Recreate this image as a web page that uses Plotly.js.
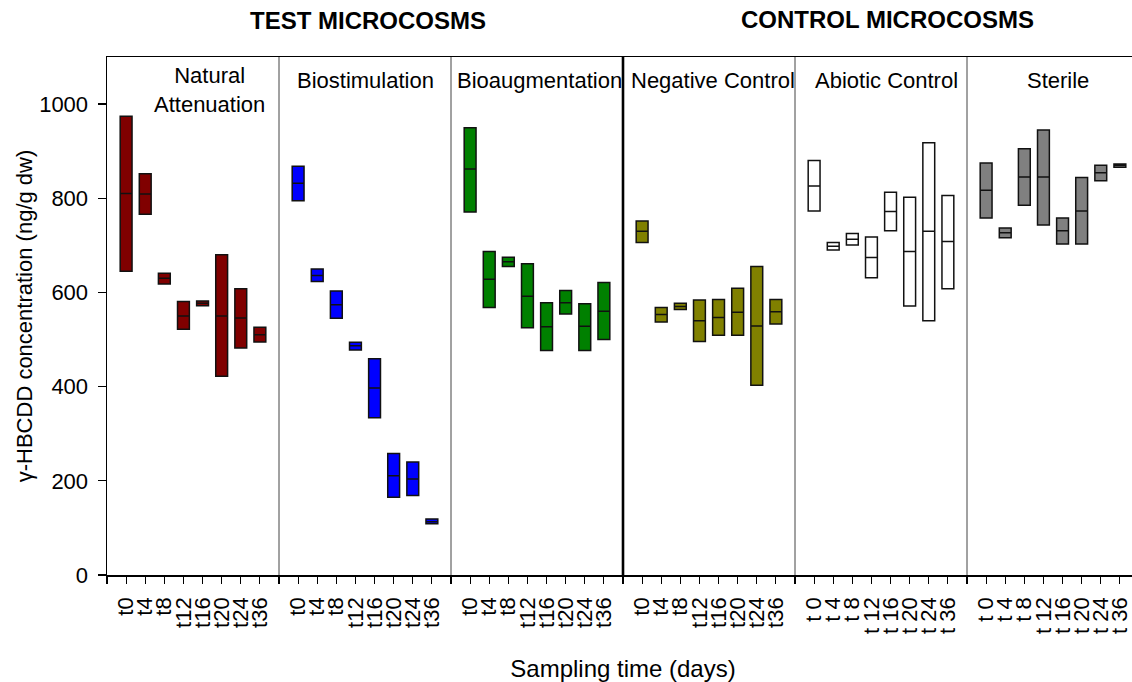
<!DOCTYPE html>
<html>
<head>
<meta charset="utf-8">
<script src="https://cdn.plot.ly/plotly-3.0.1.min.js"></script>
<style>
html, body { margin: 0; padding: 0; overflow: hidden; background: #fff; }
#chart { width: 1150px; height: 682px; }
</style>
</head>
<body>
<div id="chart"></div>
<script>
// ---- data ----
const categories = ['t0', 't4', 't8', 't12', 't16', 't20', 't24', 't36'];
const spacedCategories = ['t 0', 't 4', 't 8', 't 12', 't 16', 't 20', 't 24', 't 36'];
const panelNames = ['Natural<br>Attenuation', 'Biostimulation', 'Bioaugmentation', 'Negative Control', 'Abiotic Control', 'Sterile'];
const groupNames = ['TEST MICROCOSMS', 'CONTROL MICROCOSMS'];
const panelColors = ['#800000', '#0000ff', '#008000', '#808000', '#ffffff', '#808080'];

const naLow  = [645, 766, 618, 522, 572, 422, 482, 495];
const naMed  = [810, 809, 630, 550, 577, 550, 546, 510];
const naHigh = [974, 852, 641, 581, 582, 680, 608, 526];

const bsLow  = [795, 623, 545, 478, 334, 165, 169, 109];
const bsMed  = [832, 636, 574, 487, 397, 211, 204, 113];
const bsHigh = [868, 650, 603, 494, 459, 258, 240, 119];

const baLow  = [771, 568, 655, 525, 477, 554, 477, 500];
const baMed  = [862, 628, 665, 592, 527, 578, 528, 560];
const baHigh = [950, 687, 675, 661, 578, 604, 576, 621];

const ncLow  = [706, 537, 564, 496, 509, 509, 403, 533];
const ncMed  = [730, 553, 570, 540, 547, 558, 529, 559];
const ncHigh = [752, 568, 577, 584, 585, 609, 655, 585];

const acLow  = [773, 690, 701, 631, 731, 571, 540, 608];
const acMed  = [826, 698, 713, 674, 772, 687, 730, 708];
const acHigh = [880, 706, 725, 718, 813, 802, 918, 806];

const stLow  = [758, 716, 785, 743, 703, 703, 837, 866];
const stMed  = [817, 727, 845, 845, 731, 773, 854, 870];
const stHigh = [875, 737, 905, 945, 758, 844, 870, 873];

const yTicks = [0, 200, 400, 600, 800, 1000];

// ---- build ----
const lows  = [naLow, bsLow, baLow, ncLow, acLow, stLow];
const meds  = [naMed, bsMed, baMed, ncMed, acMed, stMed];
const highs = [naHigh, bsHigh, baHigh, ncHigh, acHigh, stHigh];
const panelLabels = [categories, categories, categories, categories, spacedCategories, spacedCategories];

const slots = categories.length + 1; // 9 slots per panel
const nPanels = panelNames.length;
const FONT = 'Arial, "Liberation Sans", sans-serif';

const traces = [];
for (let p = 0; p < nPanels; p++) {
  const xs = categories.map((c, i) => p * slots + i + 1);
  traces.push({
    type: 'box',
    x: xs,
    q1: lows[p],
    median: meds[p],
    q3: highs[p],
    lowerfence: lows[p],
    upperfence: highs[p],
    width: 0.62,
    whiskerwidth: 0,
    fillcolor: panelColors[p],
    line: { color: '#111111', width: 1.5 },
    hoverinfo: 'skip',
    showlegend: false
  });
}

const tickvals = [];
const ticktext = [];
for (let p = 0; p < nPanels; p++) {
  tickvals.push(p * slots); ticktext.push('');
  panelLabels[p].forEach((lab, i) => { tickvals.push(p * slots + i + 1); ticktext.push(lab); });
}
tickvals.push(nPanels * slots); ticktext.push('');

const shapes = [];
for (let p = 1; p < nPanels; p++) {
  const thick = (p === 3);
  shapes.push({
    type: 'line', xref: 'x', yref: 'paper',
    x0: p * slots, x1: p * slots, y0: 0, y1: 1,
    line: { color: thick ? '#000000' : '#444444', width: thick ? 2.6 : 1 }
  });
}

const titleShift = [16, 0, 2, 4, 5, 5];
const annotations = panelNames.map((name, p) => ({
  text: name, xref: 'x', yref: 'paper',
  x: p * slots + slots / 2, xshift: titleShift[p],
  y: p === 0 ? 0.937 : 0.955, yanchor: 'middle', xanchor: 'center',
  showarrow: false, font: { family: FONT, size: 22, color: '#000' }
}));
annotations.push({
  text: '<b>' + groupNames[0] + '</b>', xref: 'x', yref: 'paper',
  x: 1.5 * slots, xshift: 3, y: 1.07, yanchor: 'middle',
  showarrow: false, font: { family: FONT, size: 24, color: '#000' }
});
annotations.push({
  text: '<b>' + groupNames[1] + '</b>', xref: 'x', yref: 'paper',
  x: 4.5 * slots, xshift: 6, y: 1.072, yanchor: 'middle',
  showarrow: false, font: { family: FONT, size: 24, color: '#000' }
});

const layout = {
  width: 1150, height: 682,
  margin: { l: 107, r: 11, t: 57, b: 107 },
  paper_bgcolor: '#fff', plot_bgcolor: '#fff',
  font: { family: FONT, size: 22, color: '#000' },
  showlegend: false,
  xaxis: {
    range: [0, nPanels * slots],
    tickmode: 'array', tickvals: tickvals, ticktext: ticktext,
    tickangle: -90, ticks: 'outside', ticklen: 7, tickwidth: 1.2, tickcolor: '#000',
    ticklabelstandoff: 5,
    tickfont: { family: FONT, size: 22 },
    showline: true, linecolor: '#000', linewidth: 1.5, mirror: true,
    showgrid: false, zeroline: false, fixedrange: true,
    title: { text: 'Sampling time (days)', font: { family: FONT, size: 24 }, standoff: 32 }
  },
  yaxis: {
    range: [0, 1100],
    tickmode: 'array', tickvals: yTicks,
    ticks: 'outside', ticklen: 8, tickwidth: 1.2, tickcolor: '#000',
    ticklabelstandoff: 5,
    tickfont: { family: FONT, size: 22 },
    showline: true, linecolor: '#000', linewidth: 1.5, mirror: true,
    showgrid: false, zeroline: false, fixedrange: true,
    title: { text: 'γ-HBCDD concentration (ng/g dw)', font: { family: FONT, size: 22 }, standoff: 0 }
  },
  shapes: shapes,
  annotations: annotations
};

Plotly.newPlot('chart', traces, layout, { displayModeBar: false, staticPlot: true });
</script>
</body>
</html>
